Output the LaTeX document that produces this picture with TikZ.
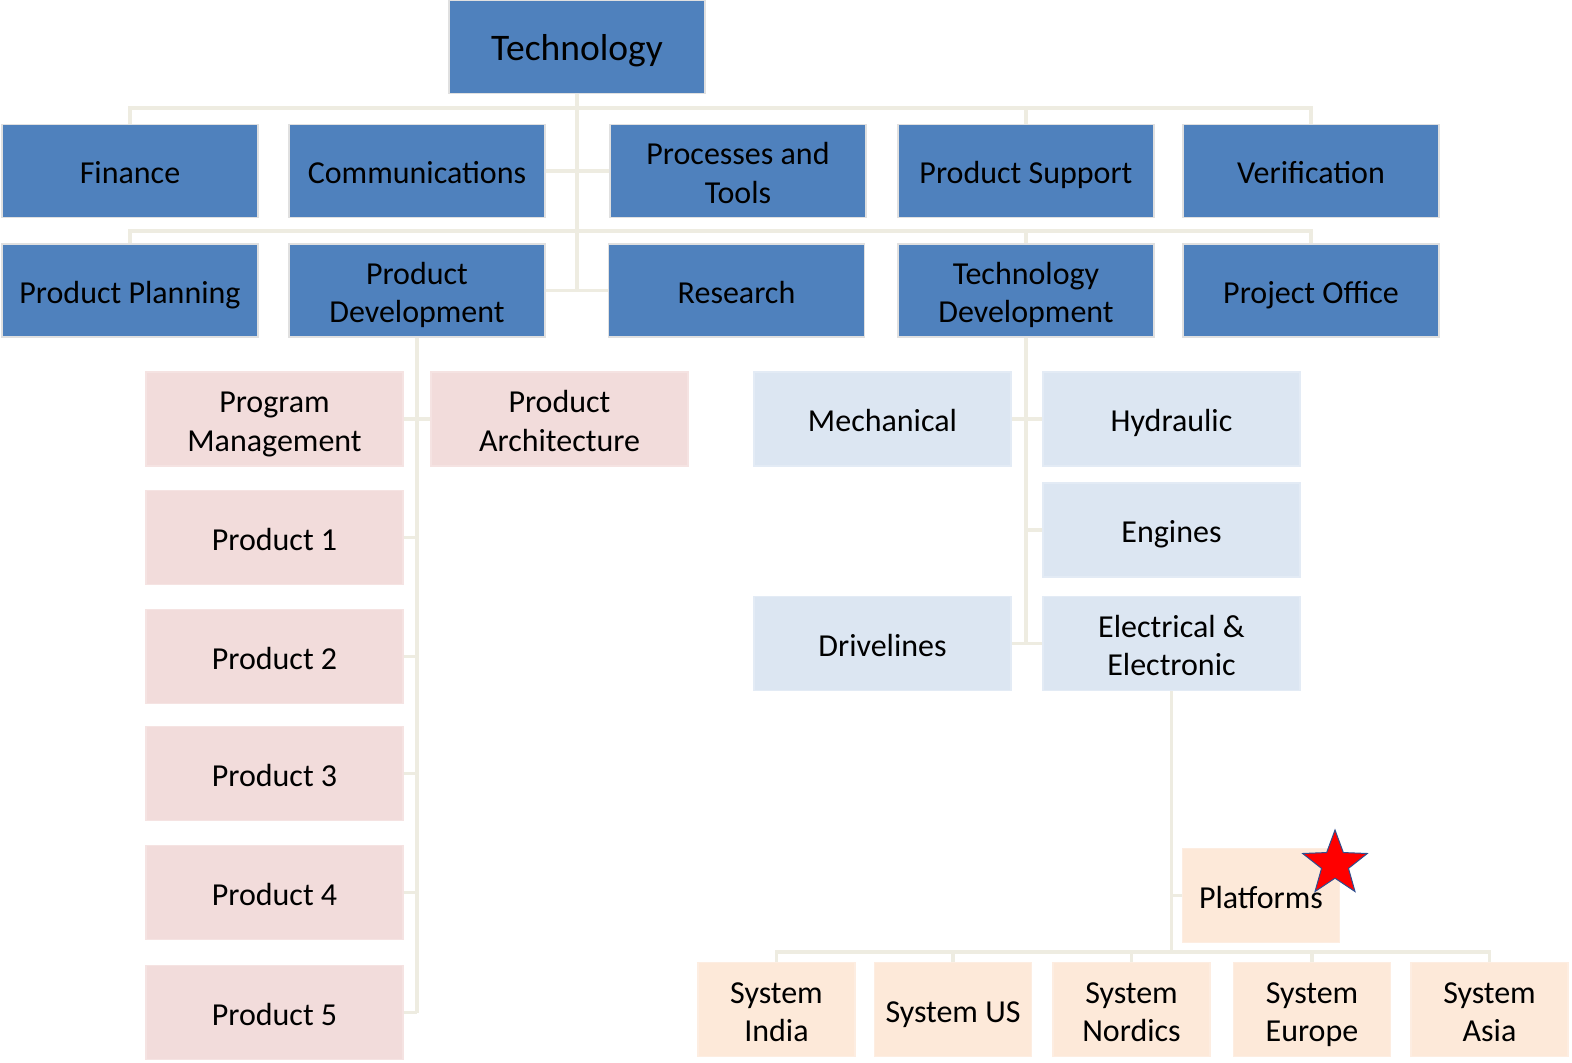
\documentclass[tikz,border=0pt]{standalone}
\usepackage{fontspec}
\setmainfont{Carlito}
\usetikzlibrary{shapes.geometric}
\definecolor{blueF}{HTML}{4F81BD}
\definecolor{pinkF}{HTML}{F2DCDB}
\definecolor{lblueF}{HTML}{DCE6F2}
\definecolor{peachF}{HTML}{FDE9D9}
\definecolor{lineC}{HTML}{EEECE1}
\definecolor{starEdge}{HTML}{2F4F8F}
\newcommand{\lnst}{\rule[-6.5pt]{0pt}{38.5pt}}
\tikzset{
  box/.style={rectangle, draw=white!88!black, line width=1.2pt, align=center, inner sep=2pt,
    font=\fontsize{32}{38.5}\selectfont, text=black},
  bigbox/.style={box, fill=blueF, minimum width=256pt, minimum height=93pt},
  pinkbox/.style={box, fill=pinkF, draw=pinkF!80!white, minimum width=257pt, minimum height=94pt},
  lbbox/.style={box, fill=lblueF, draw=lblueF!80!white, minimum width=257pt, minimum height=94pt},
  peachbox/.style={box, fill=peachF, draw=peachF!80!white, minimum width=157pt, minimum height=94pt},
  conn/.style={draw=lineC, line width=3.5pt},
}
\begin{document}
\begin{tikzpicture}[x=1pt,y=-1pt]
\useasboundingbox (0,0) rectangle (1572,1063);
% top
\node[bigbox, font=\fontsize{37.5}{44}\selectfont] (tech) at (577,47) {\rule[-7pt]{0pt}{41.5pt}Technology};
% row 1
\node[bigbox] (fin) at (130,171) {\lnst Finance};
\node[bigbox] (comm) at (417,171) {\lnst Communications};
\node[bigbox] (proc) at (738,171) {\lnst Processes and\\\lnst Tools};
\node[bigbox] (psup) at (1026,171) {\lnst Product Support};
\node[bigbox] (verif) at (1311,171) {\lnst Verification};
% row 2
\node[bigbox] (pplan) at (130,290.5) {\lnst Product Planning};
\node[bigbox] (pdev) at (417,290.5) {\lnst Product\\\lnst Development};
\node[bigbox] (res) at (736.5,290.5) {\lnst Research};
\node[bigbox] (tdev) at (1026,290.5) {\lnst Technology\\\lnst Development};
\node[bigbox] (pof) at (1311,290.5) {\lnst Project Office};
% pink
\node[pinkbox] (pm) at (274.5,419) {\lnst Program\\\lnst Management};
\node[pinkbox] (pa) at (559.5,419) {\lnst Product\\\lnst Architecture};
\node[pinkbox] (p1) at (274.5,537.5) {\lnst Product 1};
\node[pinkbox] (p2) at (274.5,656.5) {\lnst Product 2};
\node[pinkbox] (p3) at (274.5,773.5) {\lnst Product 3};
\node[pinkbox] (p4) at (274.5,892.5) {\lnst Product 4};
\node[pinkbox] (p5) at (274.5,1012.5) {\lnst Product 5};
% light blue
\node[lbbox] (mech) at (882.5,419) {\lnst Mechanical};
\node[lbbox] (hyd) at (1171.5,419) {\lnst Hydraulic};
\node[lbbox] (eng) at (1171.5,530) {\lnst Engines};
\node[lbbox] (dri) at (882.5,643.5) {\lnst Drivelines};
\node[lbbox] (ee) at (1171.5,643.5) {\lnst Electrical \&\\\lnst Electronic};
% peach
\node[peachbox] (plat) at (1261,895.5) {\lnst Platforms};
\node[peachbox] (sind) at (776.5,1009.5) {\lnst System\\\lnst India};
\node[peachbox] (sus) at (953,1009.5) {\lnst System US};
\node[peachbox] (snor) at (1131.5,1009.5) {\lnst System\\\lnst Nordics};
\node[peachbox] (seur) at (1312,1009.5) {\lnst System\\\lnst Europe};
\node[peachbox] (sasi) at (1489.5,1009.5) {\lnst System\\\lnst Asia};
% bus coordinates
\coordinate (b1) at (577,108);
\coordinate (b2) at (577,231);
\coordinate (b3) at (1171.5,952);
% connectors top level
\draw[conn] (tech.south) -- (tech.south |- res.west);
\draw[conn] (fin.north) |- (b1) -| (verif.north);
\draw[conn] (psup.north) -- (psup.north |- b1);
\draw[conn] (comm.east) -- (proc.west);
\draw[conn] (pplan.north) |- (b2) -| (pof.north);
\draw[conn] (tdev.north) -- (tdev.north |- b2);
\draw[conn] (pdev.east) -- (res.west);
% product development
\draw[conn] (pdev.south) -- (pdev.south |- p5.east);
\draw[conn] (pm.east) -- (pa.west);
\draw[conn] (p1.east) -- (pdev.south |- p1.east);
\draw[conn] (p2.east) -- (pdev.south |- p2.east);
\draw[conn] (p3.east) -- (pdev.south |- p3.east);
\draw[conn] (p4.east) -- (pdev.south |- p4.east);
\draw[conn] (p5.east) -- (pdev.south |- p5.east);
% technology development
\draw[conn] (tdev.south) -- (tdev.south |- dri.east);
\draw[conn] (mech.east) -- (hyd.west);
\draw[conn] (eng.west) -- (tdev.south |- eng.west);
\draw[conn] (dri.east) -- (ee.west);
% electrical
\draw[conn] (ee.south) -- (b3);
\draw[conn] (plat.west) -- (ee.south |- plat.west);
\draw[conn] (sind.north) |- (b3) -| (sasi.north);
\draw[conn] (sus.north) -- (sus.north |- b3);
\draw[conn] (snor.north) -- (snor.north |- b3);
\draw[conn] (seur.north) -- (seur.north |- b3);
% star
\node[star, star points=5, star point ratio=2.4, fill=red, draw=starEdge, line width=1pt,
  minimum size=68pt, inner sep=0pt] (star) at (1335,864) {};
\end{tikzpicture}
\end{document}
